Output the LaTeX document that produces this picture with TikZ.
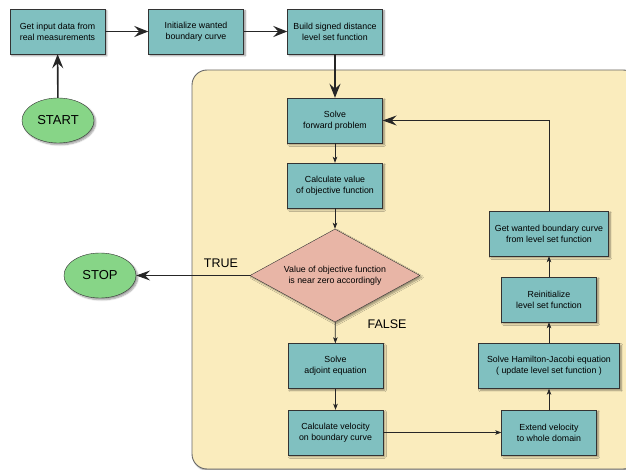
\documentclass[tikz,border=0pt]{standalone}
\usepackage{fontspec}
\setmainfont{Liberation Sans}
\usetikzlibrary{shapes.geometric,shadows.blur,arrows.meta}
\definecolor{boxteal}{RGB}{128,192,192}
\definecolor{condpink}{RGB}{232,181,166}
\definecolor{endgreen}{RGB}{135,213,135}
\definecolor{loopyellow}{RGB}{250,236,189}

\begin{document}
\begin{tikzpicture}[x=1pt,y=-1pt,
    shad/.style={blur shadow={shadow xshift=1.8pt,shadow yshift=-1.8pt,shadow blur steps=6,shadow blur radius=1.6pt}},
    box/.style={draw=black!80,fill=boxteal,minimum width=95pt,minimum height=45pt,inner sep=2pt,align=center,font=\fontsize{8.8}{11}\selectfont,shad},
    term/.style={ellipse,draw=black!80,fill=endgreen,minimum width=72pt,minimum height=45pt,inner sep=0pt,font=\fontsize{13}{15}\selectfont,shad},
    cond/.style={diamond,aspect=1.83,draw=black!80,fill=condpink,minimum width=170pt,minimum height=93pt,inner sep=0pt,align=center,font=\fontsize{8.8}{11}\selectfont,shad},
    bigarrow/.style={line width=1.6pt,draw=black!85,-{Stealth[length=14pt,width=11pt,inset=5pt]}},
    longarrow/.style={line width=0.8pt,draw=black!85,-{Stealth[length=14pt,width=10pt,inset=5pt]}},
    thinarrow/.style={line width=0.7pt,draw=black!85,-{Stealth[length=6pt,width=4.5pt,inset=1.5pt]}}]
    \clip (0,0) rectangle (626,470);

    % loop region
    \draw[draw=black!60,line width=0.9pt,fill=loopyellow,rounded corners=15pt,shad] (192,70) rectangle (638,469);

    % nodes
    \node[box] (input) at (57.5,31.5) {Get input data from\\real measurements};
    \node[box] (init) at (196,31.5) {Initialize wanted\\boundary curve};
    \node[box] (build) at (335,31.5) {Build signed distance\\level set function};
    \node[term] (start) at (58,120.5) {START};
    \node[box] (fwd) at (335,120.5) {Solve\\forward problem};
    \node[box] (objval) at (335,185.5) {Calculate value\\of objective function};
    \node[cond] (near) at (335,275.5) {Value of objective function\\is near zero accordingly};
    \node[term] (stop) at (100,275.5) {STOP};
    \node[box] (adjoint) at (335.5,366) {Solve\\adjoint equation};
    \node[box] (vel) at (335.5,432.5) {Calculate velocity\\on boundary curve};
    \node[box] (extend) at (549,432.5) {Extend velocity\\to whole domain};
    \node[box,minimum width=141pt] (hj) at (549,366) {Solve Hamilton-Jacobi equation\\( update level set function )};
    \node[box] (reinit) at (549,299.5) {Reinitialize\\level set function};
    \node[box,minimum width=119pt] (getcurve) at (549,233.5) {Get wanted boundary curve\\from level set function};

    \node[font=\fontsize{12.5}{14}\selectfont] (truelbl) at (221,263) {TRUE};
    \node[font=\fontsize{12.5}{14}\selectfont] (falselbl) at (387,324) {FALSE};

    % connectors
    \draw[bigarrow] (start) -- (input);
    \draw[bigarrow] (input) -- (init);
    \draw[bigarrow] (init) -- (build);
    \draw[bigarrow] (build) -- (fwd);
    \draw[thinarrow] (fwd) -- (objval);
    \draw[thinarrow] (objval) -- (near);
    \draw[longarrow] (near) -- (stop);
    \draw[thinarrow] (near) -- (adjoint);
    \draw[thinarrow] (adjoint) -- (vel);
    \draw[thinarrow] (vel) -- (extend);
    \draw[thinarrow] (extend) -- (hj);
    \draw[thinarrow] (hj) -- (reinit);
    \draw[thinarrow] (reinit) -- (getcurve);
    \draw[longarrow] (getcurve.north) |- (fwd.east);
\end{tikzpicture}
\end{document}
